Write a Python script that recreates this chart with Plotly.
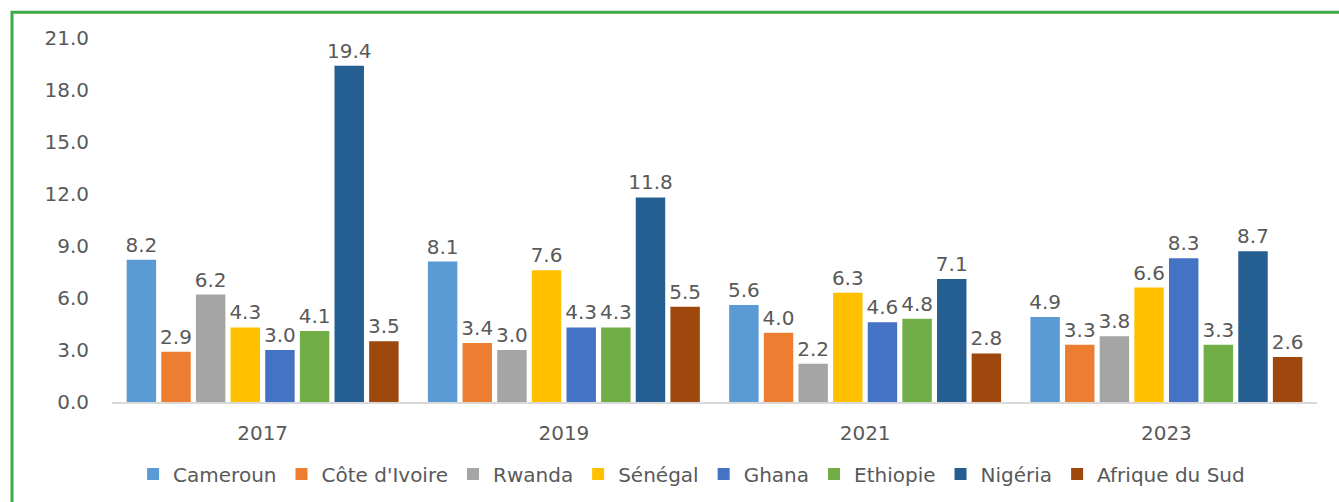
import plotly.graph_objects as go

years = ["2017", "2019", "2021", "2023"]
countries = ["Cameroun", "Côte d'Ivoire", "Rwanda", "Sénégal",
             "Ghana", "Ethiopie", "Nigéria", "Afrique du Sud"]
cameroun = [8.2, 8.1, 5.6, 4.9]
cote_ivoire = [2.9, 3.4, 4.0, 3.3]
rwanda = [6.2, 3.0, 2.2, 3.8]
senegal = [4.3, 7.6, 6.3, 6.6]
ghana = [3.0, 4.3, 4.6, 8.3]
ethiopie = [4.1, 4.3, 4.8, 3.3]
nigeria = [19.4, 11.8, 7.1, 8.7]
afrique_sud = [3.5, 5.5, 2.8, 2.6]
series = [cameroun, cote_ivoire, rwanda, senegal, ghana, ethiopie, nigeria, afrique_sud]
colors = ["#5B9BD5", "#ED7D31", "#A5A5A5", "#FFC000",
          "#4472C4", "#70AD47", "#255E91", "#9E480E"]
y_ticks = [0, 3, 6, 9, 12, 15, 18, 21]

FONT = "DejaVu Sans"
GREY = "#595959"

fig = go.Figure()
for name, vals, col in zip(countries, series, colors):
    fig.add_trace(go.Bar(
        x=years, y=vals, name=name,
        marker=dict(color=col, line=dict(width=0)),
        text=[f"{v:.1f}" for v in vals],
        textposition="outside",
        constraintext="none",
        textfont=dict(family=FONT, size=20, color=GREY),
        cliponaxis=False,
    ))

fig.update_layout(
    width=1339, height=502,
    barmode="group", bargap=0.08, bargroupgap=0.15,
    plot_bgcolor="white", paper_bgcolor="white",
    margin=dict(l=112, r=22, t=38, b=100, autoexpand=False),
    font=dict(family=FONT, size=20, color=GREY),
    xaxis=dict(showline=True, linecolor="#D9D9D9", linewidth=1.5,
               tickfont=dict(size=20, color=GREY), ticks="", ticklabelstandoff=12),
    yaxis=dict(range=[0, 21], tickvals=y_ticks, tickformat=".1f",
               showgrid=False, zeroline=False, showline=False,
               tickfont=dict(size=20, color=GREY), ticklabelstandoff=22),
    legend=dict(orientation="h", x=0.481, xanchor="center", y=-0.198, yanchor="middle",
                font=dict(size=20, color=GREY), itemwidth=30, traceorder="normal"),
    shapes=[dict(type="rect", xref="paper", yref="paper",
                 x0=-0.083, x1=1.03, y0=-0.3, y1=1.071,
                 line=dict(color="#3DAA47", width=3), layer="below")],
)

fig.write_html("out.html", config={"displayModeBar": False},
               post_script="document.body.style.margin='0';")
